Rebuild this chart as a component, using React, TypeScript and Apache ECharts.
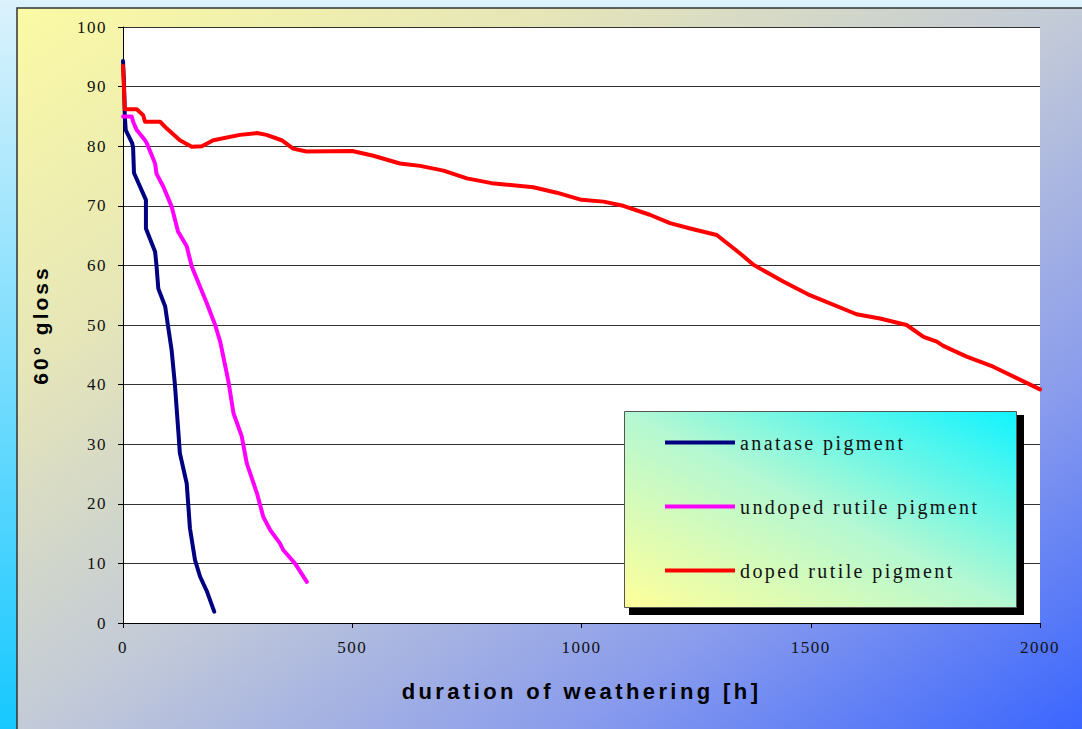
import React, { useEffect, useRef } from "react";
import * as echarts from "echarts";

// Weathering test: 60° gloss retention of three TiO2 pigments
const anataseHours = [0, 2, 3, 4, 6, 20, 22, 24, 50, 50, 70, 73, 77, 92, 99, 106, 113, 121, 124, 139, 146, 157, 168, 183, 199];
const anataseGloss = [94.3, 91, 88, 85, 82.7, 80.5, 79.8, 75.5, 71, 66.2, 62.3, 60, 56.1, 53.1, 49.4, 45.8, 40.2, 31.8, 28.5, 23.4, 15.9, 10.6, 7.8, 5.3, 1.9];

const undopedHours = [0, 19, 22, 30, 48, 52, 70, 73, 88, 106, 120, 139, 150, 168, 183, 201, 212, 230, 241, 259, 270, 292, 306, 321, 342, 350, 375, 401];
const undopedGloss = [85, 85, 84.1, 82.7, 81, 80.5, 77.1, 75.4, 73.2, 69.9, 65.7, 63.2, 59.8, 56.4, 53.6, 50, 47.2, 40.5, 35.2, 31.3, 26.8, 21.8, 17.8, 15.6, 13.4, 12.2, 10, 6.9];

const dopedHours = [0, 4, 30, 44, 48, 81, 95, 124, 150, 172, 197, 255, 292, 313, 346, 371, 400, 500, 546, 604, 648, 699, 750, 804, 895, 946, 1000, 1048, 1091, 1149, 1193, 1237, 1295, 1346, 1375, 1440, 1498, 1600, 1651, 1709, 1746, 1775, 1789, 1840, 1898, 2000];
const dopedGloss = [93.5, 86.2, 86.2, 85.2, 84.1, 84.1, 83, 81, 79.9, 80, 81, 81.9, 82.2, 81.9, 81, 79.6, 79.1, 79.2, 78.4, 77.1, 76.7, 75.9, 74.6, 73.8, 73.1, 72.2, 71, 70.7, 70, 68.5, 67.1, 66.2, 65.1, 62, 60.1, 57.3, 55, 51.8, 51.1, 50, 48, 47.2, 46.5, 44.7, 43, 39.2];

const seriesNames = ["anatase pigment", "undoped rutile pigment", "doped rutile pigment"];
const seriesColors = ["#000080", "#ff00ff", "#ff0000"];

const xAxisTitle = "duration of weathering [h]";
const yAxisTitle = "60° gloss";

const pairs = (xs: number[], ys: number[]) => xs.map((x, i) => [x, ys[i]]);

const serifFont = "'Liberation Serif', 'Times New Roman', serif";
const sansFont = "'Liberation Sans', Arial, sans-serif";

export default function App() {
  const ref = useRef<HTMLDivElement>(null);

  useEffect(() => {
    if (!ref.current) return;
    const chart = echarts.init(ref.current, undefined, { renderer: "svg" });

    const data = [
      pairs(anataseHours, anataseGloss),
      pairs(undopedHours, undopedGloss),
      pairs(dopedHours, dopedGloss),
    ];

    chart.setOption({
      animation: false,
      backgroundColor: new echarts.graphic.LinearGradient(0, 0, 0, 1, [
        { offset: 0, color: "#dcf2fc" },
        { offset: 1, color: "#16c8ff" },
      ]),
      graphic: [
        {
          type: "rect",
          z: -10,
          shape: { x: 17, y: 8, width: 1070, height: 730 },
          style: {
            fill: new echarts.graphic.LinearGradient(0, 0, 1, 1, [
              { offset: 0, color: "#fbfaa4" },
              { offset: 0.25, color: "#e6e6b8" },
              { offset: 0.5, color: "#c2cad8" },
              { offset: 0.75, color: "#8a9cec" },
              { offset: 1, color: "#3864ff" },
            ]),
            stroke: "#333333",
            lineWidth: 1.5,
          },
        },
        {
          type: "rect",
          z: 5,
          shape: { x: 629, y: 415, width: 395, height: 200 },
          style: { fill: "#000000" },
        },
        {
          type: "rect",
          z: 6,
          shape: { x: 624.5, y: 411.5, width: 392, height: 196 },
          style: {
            fill: new echarts.graphic.LinearGradient(0, 1, 1, 0, [
              { offset: 0, color: "#ffff9a" },
              { offset: 0.5, color: "#b4f8d2" },
              { offset: 1, color: "#10f4ff" },
            ]),
            stroke: "#555555",
            lineWidth: 1,
          },
        },
      ],
      legend: {
        z: 10,
        orient: "vertical",
        left: 665,
        top: 432,
        padding: 0,
        itemWidth: 70,
        itemHeight: 4,
        itemGap: 43,
        icon: "rect",
        selectedMode: false,
        data: seriesNames,
        textStyle: {
          fontFamily: serifFont,
          fontSize: 20,
          lineHeight: 21,
          color: "#111111",
        },
      },
      grid: {
        left: 123,
        top: 27,
        right: 42,
        bottom: 106,
        show: true,
        backgroundColor: "#ffffff",
        borderWidth: 0,
      },
      xAxis: {
        type: "value",
        min: 0,
        max: 2000,
        interval: 500,
        name: xAxisTitle,
        nameLocation: "middle",
        nameGap: 57,
        nameTextStyle: {
          fontFamily: sansFont,
          fontSize: 22,
          fontWeight: "bold",
          color: "#000000",
        },
        axisLine: { show: true, lineStyle: { color: "#000000", width: 1 } },
        axisTick: { show: true, length: 5, lineStyle: { color: "#000000" } },
        axisLabel: {
          margin: 16,
          fontFamily: serifFont,
          fontSize: 17,
          color: "#111111",
          formatter: (v: number) => String(v),
        },
        splitLine: { show: false },
      },
      yAxis: {
        type: "value",
        min: 0,
        max: 100,
        interval: 10,
        name: yAxisTitle,
        nameLocation: "middle",
        nameRotate: 90,
        nameGap: 72,
        nameTextStyle: {
          fontFamily: sansFont,
          fontSize: 21,
          fontWeight: "bold",
          color: "#000000",
        },
        axisLine: { show: true, lineStyle: { color: "#000000", width: 1 } },
        axisTick: { show: true, length: 5, lineStyle: { color: "#000000" } },
        axisLabel: {
          margin: 16,
          fontFamily: serifFont,
          fontSize: 17,
          color: "#111111",
          formatter: (v: number) => String(v),
        },
        splitLine: { show: true, lineStyle: { color: "#333333", width: 1 } },
      },
      series: seriesNames.map((name, i) => ({
        name,
        type: "line",
        data: data[i],
        color: seriesColors[i],
        showSymbol: false,
        symbol: "none",
        lineStyle: { width: 4, color: seriesColors[i], join: "round", cap: "round" },
        z: 2 + i,
      })),
    });

    return () => chart.dispose();
  }, []);

  return (
    <>
      <style>{`
        .gloss-chart text[style*="17px"] { letter-spacing: 1.5px; }
        .gloss-chart text[style*="20px"] { letter-spacing: 2.4px; }
        .gloss-chart text[style*="21px"] { letter-spacing: 3px; }
        .gloss-chart text[style*="22px"] { letter-spacing: 3.4px; }
      `}</style>
      <div
        ref={ref}
        className="gloss-chart"
        style={{ position: "fixed", left: 0, top: 0, width: 1082, height: 729 }}
      />
    </>
  );
}
